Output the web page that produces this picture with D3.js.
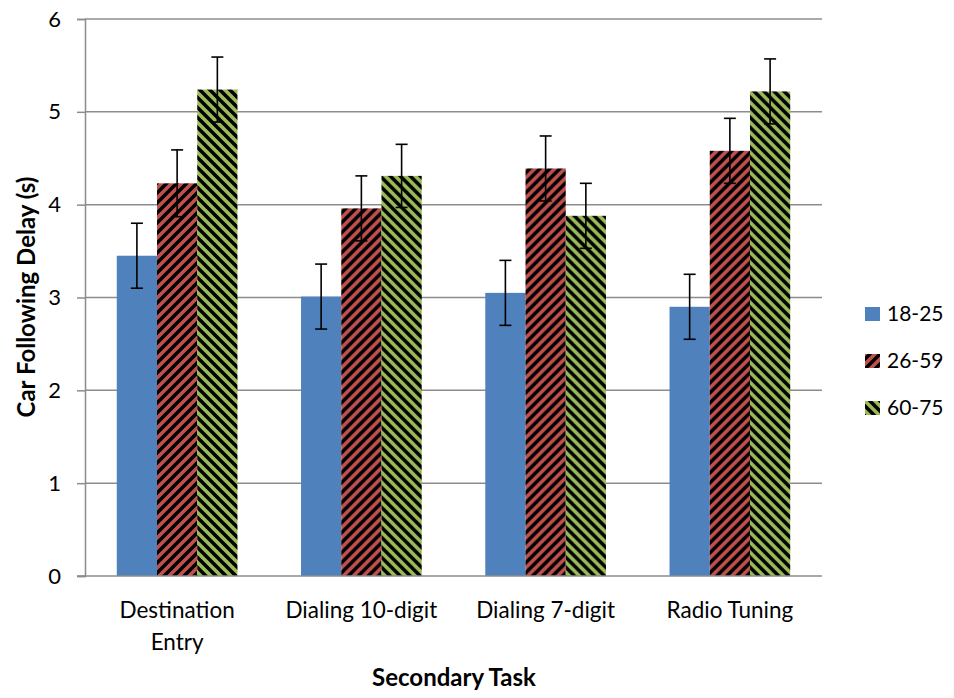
<!DOCTYPE html>
<html><head><meta charset="utf-8">
<script src="https://cdn.jsdelivr.net/npm/d3@7"></script>
<style>body{margin:0;background:#fff}svg{display:block}text{font-family:Lato,"Open Sans",sans-serif}</style>
</head><body><svg id="c" width="954" height="698"></svg>
<script>
const categories = ["Destination Entry", "Dialing 10-digit", "Dialing 7-digit", "Radio Tuning"];
const seriesNames = ["18-25", "26-59", "60-75"];
const age18_25 = [3.45, 3.01, 3.05, 2.90];
const age26_59 = [4.23, 3.96, 4.39, 4.58];
const age60_75 = [5.24, 4.31, 3.88, 5.22];
const err18_25 = [0.35, 0.35, 0.35, 0.35];
const err26_59 = [0.36, 0.35, 0.35, 0.35];
const err60_75 = [0.35, 0.34, 0.35, 0.35];
const yTicks = [0, 1, 2, 3, 4, 5, 6];

const values = [age18_25, age26_59, age60_75];
const errs = [err18_25, err26_59, err60_75];
const svg = d3.select("#c");
const defs = svg.append("defs");
const T = 10;
function stripe(id, color, dir) {
  const p = defs.append("pattern").attr("id", id).attr("patternUnits", "userSpaceOnUse")
    .attr("width", T).attr("height", T);
  p.append("rect").attr("width", T).attr("height", T).attr("fill", "#000");
  const path = dir > 0
    ? `M-4,4 L4,-4 M0,${T} L${T},0 M${T-4},${T+4} L${T+4},${T-4}`
    : `M-4,${T-4} L4,${T+4} M0,0 L${T},${T} M${T-4},-4 L${T+4},4`;
  p.append("path").attr("d", path).attr("stroke", color).attr("stroke-width", 3.6);
}
stripe("pRed", "#c0504d", 1);
stripe("pGreen", "#9bbb59", -1);
const fills = ["#4f81bd", "url(#pRed)", "url(#pGreen)"];

const mLeft = 85, mRight = 822, mTop = 19, mBottom = 576;
const x = d3.scaleBand().domain(categories).range([mLeft, mRight]).paddingInner(0).paddingOuter(0);
const xs = d3.scaleBand().domain(seriesNames).range([0, x.bandwidth()]).paddingInner(0).paddingOuter(0.79);
const y = d3.scaleLinear().domain([0, 6]).range([mBottom, mTop]);

// gridlines
svg.append("g").selectAll("line").data(yTicks.filter(d => d > 0)).join("line")
  .attr("x1", mLeft).attr("x2", mRight).attr("y1", d => y(d)).attr("y2", d => y(d))
  .attr("stroke", "#8c8c8c").attr("stroke-width", 1.5);

// y axis
const ya = svg.append("g").attr("transform", `translate(${mLeft},0)`)
  .call(d3.axisLeft(y).tickValues(yTicks).tickSize(8).tickPadding(16).tickFormat(d3.format("d")));
ya.select(".domain").attr("stroke", "#8c8c8c").attr("stroke-width", 1.5);
ya.selectAll(".tick line").attr("stroke", "#8c8c8c").attr("stroke-width", 1.5);
ya.selectAll("text").attr("font-size", 22).attr("fill", "#000").attr("font-family", "Lato, sans-serif");

// bars
const groups = svg.append("g").selectAll("g").data(categories).join("g")
  .attr("transform", d => `translate(${x(d)},0)`);
seriesNames.forEach((s, si) => {
  groups.append("rect")
    .attr("x", xs(s)).attr("width", xs.bandwidth())
    .attr("y", (d, i) => y(values[si][i])).attr("height", (d, i) => mBottom - y(values[si][i]))
    .attr("fill", fills[si]);
});
// error bars
seriesNames.forEach((s, si) => {
  const cx = xs(s) + xs.bandwidth() / 2;
  groups.append("line").attr("x1", cx).attr("x2", cx)
    .attr("y1", (d, i) => y(values[si][i] + errs[si][i])).attr("y2", (d, i) => y(values[si][i] - errs[si][i]))
    .attr("stroke", "#000").attr("stroke-width", 1.6);
  [1, -1].forEach(sign => {
    groups.append("line").attr("x1", cx - 6).attr("x2", cx + 6)
      .attr("y1", (d, i) => y(values[si][i] + sign * errs[si][i]))
      .attr("y2", (d, i) => y(values[si][i] + sign * errs[si][i]))
      .attr("stroke", "#000").attr("stroke-width", 1.6);
  });
});

// x axis line
svg.append("line").attr("x1", 77).attr("x2", mRight).attr("y1", mBottom).attr("y2", mBottom)
  .attr("stroke", "#8c8c8c").attr("stroke-width", 1.5);

// category labels
const catLines = { "Destination Entry": ["Destination", "Entry"] };
categories.forEach(c => {
  const lines = catLines[c] || [c];
  const t = svg.append("text").attr("x", x(c) + x.bandwidth() / 2).attr("y", 618)
    .attr("text-anchor", "middle").attr("font-size", 22.5).attr("fill", "#000");
  lines.forEach((l, i) => t.append("tspan").attr("x", x(c) + x.bandwidth() / 2).attr("dy", i ? 32 : 0).text(l));
});

// axis titles
svg.append("text").attr("x", 454).attr("y", 686).attr("text-anchor", "middle")
  .attr("font-size", 24).attr("font-weight", "bold").text("Secondary Task");
svg.append("text").attr("transform", "translate(35,297) rotate(-90)").attr("text-anchor", "middle")
  .attr("font-size", 24).attr("font-weight", "bold").text("Car Following Delay (s)");

// legend
const lg = svg.append("g").selectAll("g").data(seriesNames).join("g")
  .attr("transform", (d, i) => `translate(865,${307 + i * 47})`);
lg.append("rect").attr("width", 15).attr("height", 14).attr("fill", (d, i) => fills[i]);
lg.append("text").attr("x", 22).attr("y", 14).attr("font-size", 21).text(d => d);
</script></body></html>
